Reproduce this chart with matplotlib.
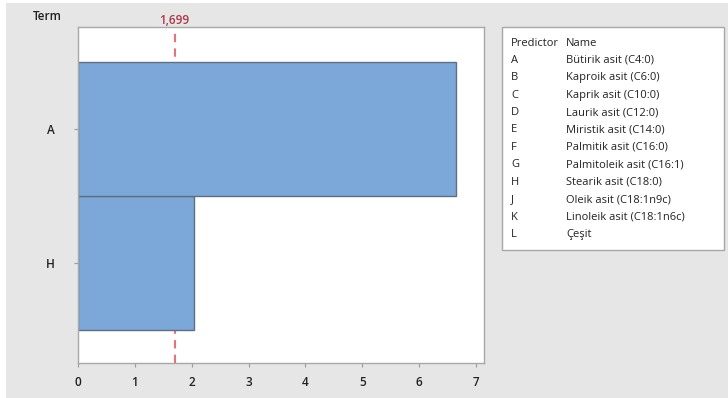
import matplotlib
matplotlib.use("Agg")
import matplotlib.pyplot as plt
from matplotlib.patches import Rectangle

# standardized effects (Pareto chart)
terms = ["H", "A"]
effects = [2.04, 6.64]
critical = 1.699
critical_label = "1,699"

predictors = ["A", "B", "C", "D", "E", "F", "G", "H", "J", "K", "L"]
names = ["Bütirik asit (C4:0)", "Kaproik asit (C6:0)", "Kaprik asit (C10:0)",
         "Laurik asit (C12:0)", "Miristik asit (C14:0)", "Palmitik asit (C16:0)",
         "Palmitoleik asit (C16:1)", "Stearik asit (C18:0)", "Oleik asit (C18:1n9c)",
         "Linoleik asit (C18:1n6c)", "Çeşit"]

plt.rcParams['font.family'] = ['Open Sans', 'DejaVu Sans']
W, H = 728, 398
fig = plt.figure(figsize=(W / 100, H / 100), dpi=100)
fig.patch.set_facecolor("white")

# gray panel behind everything
fig.patches.append(Rectangle((6 / W, 0 / H), 1, 1 - 3 / H, transform=fig.transFigure,
                             facecolor="#E6E6E6", edgecolor="none", zorder=-10))

ax = fig.add_axes([78 / W, 1 - 363 / H, (484 - 78) / W, (363 - 27) / H])
ax.set_facecolor("white")
ax.barh(range(len(terms)), effects, height=1.0, color="#7BA7D9",
        edgecolor="#5F6F80", linewidth=1.0, zorder=2)
ax.axvline(critical, color="#E8727C", linestyle=(0, (4, 3)), linewidth=1.5, zorder=1)
ax.text(critical, 1.0, critical_label, transform=ax.get_xaxis_transform(),
        ha="center", va="bottom", color="#B03545", fontsize=8.5, fontweight="semibold")

ax.set_xlim(0, 7.14)
ax.set_ylim(-0.75, 1.76)
ax.set_xticks(range(0, 8))
ax.set_yticks(range(len(terms)))
ax.set_yticklabels(terms)
ax.tick_params(axis="both", colors="#9A9A9A", labelcolor="#222222", labelsize=8.5,
               length=3, width=0.8)
for lab in ax.get_xticklabels() + ax.get_yticklabels():
    lab.set_fontweight("semibold")
ax.tick_params(axis="x", pad=6)
ax.tick_params(axis="y", pad=14)
for s in ax.spines.values():
    s.set_color("#A8A8A8")
    s.set_linewidth(1.0)

fig.text(47 / W, 1 - 17 / H, "Term", ha="center", va="center", fontsize=8.5,
         fontweight="semibold", color="#222222")

# predictor key box
fig.patches.append(Rectangle((502 / W, 1 - 250 / H), (724 - 502) / W, (250 - 27) / H,
                             transform=fig.transFigure, facecolor="white",
                             edgecolor="#A8A8A8", linewidth=1.0))
y0 = 43
step = 17.4
fig.text(511 / W, 1 - y0 / H, "Predictor", va="center", fontsize=8, color="#222222")
fig.text(566 / W, 1 - y0 / H, "Name", va="center", fontsize=8, color="#222222")
for i, (p, n) in enumerate(zip(predictors, names)):
    y = y0 + step * (i + 1)
    fig.text(511 / W, 1 - y / H, p, va="center", fontsize=8, color="#222222")
    fig.text(566 / W, 1 - y / H, n, va="center", fontsize=8, color="#222222")

fig.savefig("out.png", dpi=100)
